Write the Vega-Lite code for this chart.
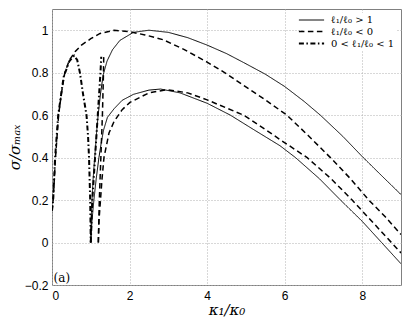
{
  "$schema": "https://vega.github.io/schema/vega-lite/v6.json",
  "width": 349,
  "height": 276,
  "autosize": "none",
  "padding": {"left": 52, "top": 9, "right": 6, "bottom": 38},
  "background": "white",
  "config": {
    "view": {"stroke": "#808080", "strokeWidth": 1},
    "axis": {
      "grid": true, "gridColor": "#b0b0b0", "gridDash": [1, 2], "gridWidth": 1,
      "domain": false, "ticks": false,
      "labelFont": "Liberation Sans", "labelFontSize": 12, "labelColor": "black",
      "titleFont": "DejaVu Serif", "titleFontStyle": "italic", "titleFontWeight": "normal",
      "titleFontSize": 15, "titleColor": "black"
    },
    "legend": {
      "orient": "top-right", "offset": 4, "padding": 2,
      "fillColor": "white", "strokeColor": null,
      "labelFont": "DejaVu Serif", "labelFontSize": 10, "labelColor": "black",
      "symbolType": "M-2.8,0L2.8,0", "symbolSize": 81, "symbolStrokeColor": "black",
      "labelOffset": 14, "rowPadding": 1, "title": null
    }
  },
  "data": {
    "values": [
      {"curve": "A", "kind": "ℓ₁/ℓ₀ > 1", "k": 1.0, "s": 0.0},
      {"curve": "A", "kind": "ℓ₁/ℓ₀ > 1", "k": 1.02, "s": 0.15},
      {"curve": "A", "kind": "ℓ₁/ℓ₀ > 1", "k": 1.05, "s": 0.27},
      {"curve": "A", "kind": "ℓ₁/ℓ₀ > 1", "k": 1.08, "s": 0.35},
      {"curve": "A", "kind": "ℓ₁/ℓ₀ > 1", "k": 1.11, "s": 0.42},
      {"curve": "A", "kind": "ℓ₁/ℓ₀ > 1", "k": 1.15, "s": 0.52},
      {"curve": "A", "kind": "ℓ₁/ℓ₀ > 1", "k": 1.19, "s": 0.6},
      {"curve": "A", "kind": "ℓ₁/ℓ₀ > 1", "k": 1.25, "s": 0.7},
      {"curve": "A", "kind": "ℓ₁/ℓ₀ > 1", "k": 1.32, "s": 0.79},
      {"curve": "A", "kind": "ℓ₁/ℓ₀ > 1", "k": 1.42, "s": 0.855},
      {"curve": "A", "kind": "ℓ₁/ℓ₀ > 1", "k": 1.56, "s": 0.908},
      {"curve": "A", "kind": "ℓ₁/ℓ₀ > 1", "k": 1.75, "s": 0.952},
      {"curve": "A", "kind": "ℓ₁/ℓ₀ > 1", "k": 2.1, "s": 0.99},
      {"curve": "A", "kind": "ℓ₁/ℓ₀ > 1", "k": 2.5, "s": 1.0},
      {"curve": "A", "kind": "ℓ₁/ℓ₀ > 1", "k": 3.0, "s": 0.99},
      {"curve": "A", "kind": "ℓ₁/ℓ₀ > 1", "k": 3.5, "s": 0.965},
      {"curve": "A", "kind": "ℓ₁/ℓ₀ > 1", "k": 4.0, "s": 0.93},
      {"curve": "A", "kind": "ℓ₁/ℓ₀ > 1", "k": 4.5, "s": 0.89},
      {"curve": "A", "kind": "ℓ₁/ℓ₀ > 1", "k": 4.94, "s": 0.848},
      {"curve": "A", "kind": "ℓ₁/ℓ₀ > 1", "k": 5.5, "s": 0.793},
      {"curve": "A", "kind": "ℓ₁/ℓ₀ > 1", "k": 6.0, "s": 0.735},
      {"curve": "A", "kind": "ℓ₁/ℓ₀ > 1", "k": 6.5, "s": 0.665},
      {"curve": "A", "kind": "ℓ₁/ℓ₀ > 1", "k": 6.92, "s": 0.6},
      {"curve": "A", "kind": "ℓ₁/ℓ₀ > 1", "k": 7.5, "s": 0.5},
      {"curve": "A", "kind": "ℓ₁/ℓ₀ > 1", "k": 8.0, "s": 0.405},
      {"curve": "A", "kind": "ℓ₁/ℓ₀ > 1", "k": 8.5, "s": 0.315},
      {"curve": "A", "kind": "ℓ₁/ℓ₀ > 1", "k": 9.0, "s": 0.226},

      {"curve": "B", "kind": "ℓ₁/ℓ₀ > 1", "k": 1.0, "s": 0.0},
      {"curve": "B", "kind": "ℓ₁/ℓ₀ > 1", "k": 1.03, "s": 0.1},
      {"curve": "B", "kind": "ℓ₁/ℓ₀ > 1", "k": 1.08, "s": 0.2},
      {"curve": "B", "kind": "ℓ₁/ℓ₀ > 1", "k": 1.14, "s": 0.3},
      {"curve": "B", "kind": "ℓ₁/ℓ₀ > 1", "k": 1.21, "s": 0.4},
      {"curve": "B", "kind": "ℓ₁/ℓ₀ > 1", "k": 1.27, "s": 0.47},
      {"curve": "B", "kind": "ℓ₁/ℓ₀ > 1", "k": 1.33, "s": 0.53},
      {"curve": "B", "kind": "ℓ₁/ℓ₀ > 1", "k": 1.43, "s": 0.59},
      {"curve": "B", "kind": "ℓ₁/ℓ₀ > 1", "k": 1.6, "s": 0.63},
      {"curve": "B", "kind": "ℓ₁/ℓ₀ > 1", "k": 1.81, "s": 0.67},
      {"curve": "B", "kind": "ℓ₁/ℓ₀ > 1", "k": 2.1, "s": 0.698},
      {"curve": "B", "kind": "ℓ₁/ℓ₀ > 1", "k": 2.5, "s": 0.718},
      {"curve": "B", "kind": "ℓ₁/ℓ₀ > 1", "k": 2.8, "s": 0.723},
      {"curve": "B", "kind": "ℓ₁/ℓ₀ > 1", "k": 3.3, "s": 0.705},
      {"curve": "B", "kind": "ℓ₁/ℓ₀ > 1", "k": 4.0, "s": 0.656},
      {"curve": "B", "kind": "ℓ₁/ℓ₀ > 1", "k": 4.6, "s": 0.6},
      {"curve": "B", "kind": "ℓ₁/ℓ₀ > 1", "k": 5.2, "s": 0.532},
      {"curve": "B", "kind": "ℓ₁/ℓ₀ > 1", "k": 5.88, "s": 0.456},
      {"curve": "B", "kind": "ℓ₁/ℓ₀ > 1", "k": 6.28, "s": 0.4},
      {"curve": "B", "kind": "ℓ₁/ℓ₀ > 1", "k": 6.9, "s": 0.3},
      {"curve": "B", "kind": "ℓ₁/ℓ₀ > 1", "k": 7.44, "s": 0.2},
      {"curve": "B", "kind": "ℓ₁/ℓ₀ > 1", "k": 8.0, "s": 0.1},
      {"curve": "B", "kind": "ℓ₁/ℓ₀ > 1", "k": 8.5, "s": 0.0},
      {"curve": "B", "kind": "ℓ₁/ℓ₀ > 1", "k": 9.0, "s": -0.1},

      {"curve": "C", "kind": "ℓ₁/ℓ₀ < 0", "k": 0.0, "s": 0.15},
      {"curve": "C", "kind": "ℓ₁/ℓ₀ < 0", "k": 0.03, "s": 0.2},
      {"curve": "C", "kind": "ℓ₁/ℓ₀ < 0", "k": 0.06, "s": 0.3},
      {"curve": "C", "kind": "ℓ₁/ℓ₀ < 0", "k": 0.09, "s": 0.4},
      {"curve": "C", "kind": "ℓ₁/ℓ₀ < 0", "k": 0.13, "s": 0.5},
      {"curve": "C", "kind": "ℓ₁/ℓ₀ < 0", "k": 0.17, "s": 0.6},
      {"curve": "C", "kind": "ℓ₁/ℓ₀ < 0", "k": 0.24, "s": 0.7},
      {"curve": "C", "kind": "ℓ₁/ℓ₀ < 0", "k": 0.33, "s": 0.8},
      {"curve": "C", "kind": "ℓ₁/ℓ₀ < 0", "k": 0.45, "s": 0.86},
      {"curve": "C", "kind": "ℓ₁/ℓ₀ < 0", "k": 0.6, "s": 0.9},
      {"curve": "C", "kind": "ℓ₁/ℓ₀ < 0", "k": 0.76, "s": 0.93},
      {"curve": "C", "kind": "ℓ₁/ℓ₀ < 0", "k": 1.0, "s": 0.96},
      {"curve": "C", "kind": "ℓ₁/ℓ₀ < 0", "k": 1.24, "s": 0.985},
      {"curve": "C", "kind": "ℓ₁/ℓ₀ < 0", "k": 1.6, "s": 1.0},
      {"curve": "C", "kind": "ℓ₁/ℓ₀ < 0", "k": 2.0, "s": 0.993},
      {"curve": "C", "kind": "ℓ₁/ℓ₀ < 0", "k": 2.4, "s": 0.978},
      {"curve": "C", "kind": "ℓ₁/ℓ₀ < 0", "k": 2.87, "s": 0.955},
      {"curve": "C", "kind": "ℓ₁/ℓ₀ < 0", "k": 3.4, "s": 0.91},
      {"curve": "C", "kind": "ℓ₁/ℓ₀ < 0", "k": 4.0, "s": 0.85},
      {"curve": "C", "kind": "ℓ₁/ℓ₀ < 0", "k": 4.5, "s": 0.795},
      {"curve": "C", "kind": "ℓ₁/ℓ₀ < 0", "k": 4.94, "s": 0.74},
      {"curve": "C", "kind": "ℓ₁/ℓ₀ < 0", "k": 5.5, "s": 0.672},
      {"curve": "C", "kind": "ℓ₁/ℓ₀ < 0", "k": 6.06, "s": 0.6},
      {"curve": "C", "kind": "ℓ₁/ℓ₀ < 0", "k": 6.6, "s": 0.505},
      {"curve": "C", "kind": "ℓ₁/ℓ₀ < 0", "k": 7.18, "s": 0.4},
      {"curve": "C", "kind": "ℓ₁/ℓ₀ < 0", "k": 7.7, "s": 0.3},
      {"curve": "C", "kind": "ℓ₁/ℓ₀ < 0", "k": 8.17, "s": 0.2},
      {"curve": "C", "kind": "ℓ₁/ℓ₀ < 0", "k": 8.6, "s": 0.12},
      {"curve": "C", "kind": "ℓ₁/ℓ₀ < 0", "k": 9.0, "s": 0.038},

      {"curve": "D", "kind": "ℓ₁/ℓ₀ < 0", "k": 1.195, "s": 0.0},
      {"curve": "D", "kind": "ℓ₁/ℓ₀ < 0", "k": 1.21, "s": 0.1},
      {"curve": "D", "kind": "ℓ₁/ℓ₀ < 0", "k": 1.25, "s": 0.2},
      {"curve": "D", "kind": "ℓ₁/ℓ₀ < 0", "k": 1.29, "s": 0.3},
      {"curve": "D", "kind": "ℓ₁/ℓ₀ < 0", "k": 1.34, "s": 0.4},
      {"curve": "D", "kind": "ℓ₁/ℓ₀ < 0", "k": 1.47, "s": 0.516},
      {"curve": "D", "kind": "ℓ₁/ℓ₀ < 0", "k": 1.6, "s": 0.57},
      {"curve": "D", "kind": "ℓ₁/ℓ₀ < 0", "k": 1.81, "s": 0.626},
      {"curve": "D", "kind": "ℓ₁/ℓ₀ < 0", "k": 2.01, "s": 0.66},
      {"curve": "D", "kind": "ℓ₁/ℓ₀ < 0", "k": 2.5, "s": 0.705},
      {"curve": "D", "kind": "ℓ₁/ℓ₀ < 0", "k": 2.96, "s": 0.72},
      {"curve": "D", "kind": "ℓ₁/ℓ₀ < 0", "k": 3.5, "s": 0.705},
      {"curve": "D", "kind": "ℓ₁/ℓ₀ < 0", "k": 4.0, "s": 0.672},
      {"curve": "D", "kind": "ℓ₁/ℓ₀ < 0", "k": 4.94, "s": 0.6},
      {"curve": "D", "kind": "ℓ₁/ℓ₀ < 0", "k": 5.4, "s": 0.545},
      {"curve": "D", "kind": "ℓ₁/ℓ₀ < 0", "k": 5.88, "s": 0.485},
      {"curve": "D", "kind": "ℓ₁/ℓ₀ < 0", "k": 6.58, "s": 0.4},
      {"curve": "D", "kind": "ℓ₁/ℓ₀ < 0", "k": 7.2, "s": 0.3},
      {"curve": "D", "kind": "ℓ₁/ℓ₀ < 0", "k": 7.74, "s": 0.2},
      {"curve": "D", "kind": "ℓ₁/ℓ₀ < 0", "k": 8.4, "s": 0.07},
      {"curve": "D", "kind": "ℓ₁/ℓ₀ < 0", "k": 9.0, "s": -0.049},

      {"curve": "E", "kind": "ℓ₁/ℓ₀ < 0", "k": 1.195, "s": 0.0},
      {"curve": "E", "kind": "ℓ₁/ℓ₀ < 0", "k": 1.22, "s": 0.2},
      {"curve": "E", "kind": "ℓ₁/ℓ₀ < 0", "k": 1.26, "s": 0.4},
      {"curve": "E", "kind": "ℓ₁/ℓ₀ < 0", "k": 1.3, "s": 0.6},
      {"curve": "E", "kind": "ℓ₁/ℓ₀ < 0", "k": 1.325, "s": 0.78},
      {"curve": "E", "kind": "ℓ₁/ℓ₀ < 0", "k": 1.335, "s": 0.88},

      {"curve": "F", "kind": "0 < ℓ₁/ℓ₀ < 1", "k": 0.0, "s": 0.15},
      {"curve": "F", "kind": "0 < ℓ₁/ℓ₀ < 1", "k": 0.03, "s": 0.2},
      {"curve": "F", "kind": "0 < ℓ₁/ℓ₀ < 1", "k": 0.08, "s": 0.4},
      {"curve": "F", "kind": "0 < ℓ₁/ℓ₀ < 1", "k": 0.16, "s": 0.6},
      {"curve": "F", "kind": "0 < ℓ₁/ℓ₀ < 1", "k": 0.3, "s": 0.78},
      {"curve": "F", "kind": "0 < ℓ₁/ℓ₀ < 1", "k": 0.45, "s": 0.855},
      {"curve": "F", "kind": "0 < ℓ₁/ℓ₀ < 1", "k": 0.57, "s": 0.88},
      {"curve": "F", "kind": "0 < ℓ₁/ℓ₀ < 1", "k": 0.65, "s": 0.86},
      {"curve": "F", "kind": "0 < ℓ₁/ℓ₀ < 1", "k": 0.72, "s": 0.8},
      {"curve": "F", "kind": "0 < ℓ₁/ℓ₀ < 1", "k": 0.8, "s": 0.7},
      {"curve": "F", "kind": "0 < ℓ₁/ℓ₀ < 1", "k": 0.89, "s": 0.6},
      {"curve": "F", "kind": "0 < ℓ₁/ℓ₀ < 1", "k": 0.93, "s": 0.5},
      {"curve": "F", "kind": "0 < ℓ₁/ℓ₀ < 1", "k": 0.955, "s": 0.4},
      {"curve": "F", "kind": "0 < ℓ₁/ℓ₀ < 1", "k": 0.97, "s": 0.3},
      {"curve": "F", "kind": "0 < ℓ₁/ℓ₀ < 1", "k": 0.985, "s": 0.2},
      {"curve": "F", "kind": "0 < ℓ₁/ℓ₀ < 1", "k": 1.0, "s": 0.0},

      {"curve": "G", "kind": "0 < ℓ₁/ℓ₀ < 1", "k": 1.0, "s": 0.0},
      {"curve": "G", "kind": "0 < ℓ₁/ℓ₀ < 1", "k": 1.04, "s": 0.2},
      {"curve": "G", "kind": "0 < ℓ₁/ℓ₀ < 1", "k": 1.11, "s": 0.4},
      {"curve": "G", "kind": "0 < ℓ₁/ℓ₀ < 1", "k": 1.18, "s": 0.6},
      {"curve": "G", "kind": "0 < ℓ₁/ℓ₀ < 1", "k": 1.25, "s": 0.8},
      {"curve": "G", "kind": "0 < ℓ₁/ℓ₀ < 1", "k": 1.27, "s": 0.875}
    ]
  },
  "layer": [
    {
      "mark": {"type": "line", "color": "black", "clip": true},
      "encoding": {
        "x": {
          "field": "k", "type": "quantitative",
          "scale": {"domain": [0, 9], "nice": false, "zero": false},
          "axis": {"values": [0, 2, 4, 6, 8], "format": "~g", "title": "κ₁/κ₀", "labelPadding": 5, "titlePadding": 1}
        },
        "y": {
          "field": "s", "type": "quantitative",
          "scale": {"domain": [-0.2, 1.1], "nice": false, "zero": false},
          "axis": {"values": [-0.2, 0, 0.2, 0.4, 0.6, 0.8, 1], "format": "~g", "title": "σ/σₘₐₓ", "labelPadding": 4, "titlePadding": 2}
        },
        "detail": {"field": "curve", "type": "nominal"},
        "strokeDash": {
          "field": "kind", "type": "nominal",
          "scale": {"domain": ["ℓ₁/ℓ₀ > 1", "ℓ₁/ℓ₀ < 0", "0 < ℓ₁/ℓ₀ < 1"], "range": [[1, 0], [5.5, 3.5], [5, 2.5, 1.5, 2.5]]}
        },
        "strokeWidth": {
          "field": "kind", "type": "nominal",
          "scale": {"domain": ["ℓ₁/ℓ₀ > 1", "ℓ₁/ℓ₀ < 0", "0 < ℓ₁/ℓ₀ < 1"], "range": [1, 2, 1.4]}
        }
      }
    },
    {
      "data": {"values": [{"label": "(a)"}]},
      "mark": {"type": "text", "font": "DejaVu Serif", "fontStyle": "normal", "fontWeight": "normal", "fontSize": 12, "align": "left", "baseline": "alphabetic", "color": "black"},
      "encoding": {"x": {"datum": 0.04}, "y": {"datum": -0.186}, "text": {"field": "label"}}
    }
  ]
}
